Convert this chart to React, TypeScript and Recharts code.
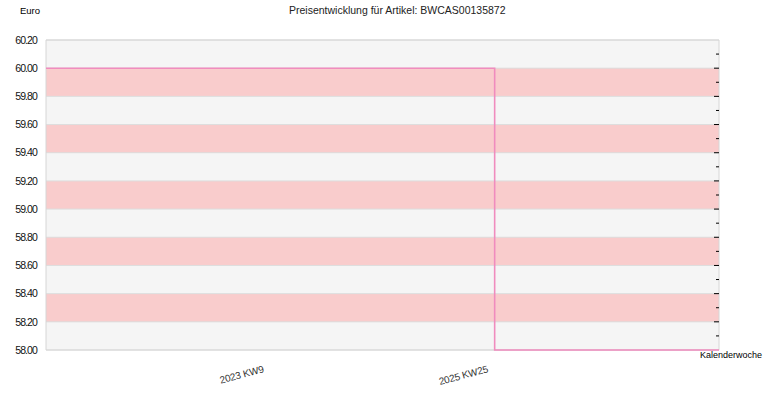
import { LineChart, Line, XAxis, YAxis, CartesianGrid, ReferenceArea } from "recharts";

const weekLabels = ["", "2023 KW9", "2025 KW25", ""];
const prices = [60.0, 60.0, 58.0, 58.0];
const yTicks = [58.0, 58.2, 58.4, 58.6, 58.8, 59.0, 59.2, 59.4, 59.6, 59.8, 60.0, 60.2];
const rightMajorTicks = [58.2, 58.4, 58.6, 58.8, 59.0, 59.2, 59.4, 59.6, 59.8, 60.0];
const rightMinorTicks = [58.1, 58.3, 58.5, 58.7, 58.9, 59.1, 59.3, 59.5, 59.7, 59.9, 60.1];

const data = prices.map((price, i) => ({ idx: i, label: weekLabels[i], price }));
const rightTicks = [...rightMajorTicks, ...rightMinorTicks].sort((a, b) => a - b);

const font = "'Liberation Sans', Arial, sans-serif";

const XTick = (props: any) => {
    const { x, y, payload } = props;
    return (
        <text
            x={x - 6}
            y={y + 14}
            textAnchor="end"
            fontSize={10}
            letterSpacing={-0.2}
            fontFamily={font}
            fill="#333"
            transform={`rotate(-15, ${x - 6}, ${y + 14})`}
        >
            {weekLabels[payload.value]}
        </text>
    );
};

// kleine Striche innen an der rechten Achse
const RightTick = (props: any) => {
    const { x, y, payload } = props;
    const major = rightMajorTicks.some((t) => Math.abs(t - payload.value) < 1e-6);
    return <line x1={x - (major ? 5 : 3)} x2={x} y1={y} y2={y} stroke="#000" strokeWidth={1} />;
};

export default function App() {
    return (
        <div style={{ position: "absolute", left: 0, top: 0, width: 770, height: 400, background: "#fff", fontFamily: font }}>
            <div style={{ position: "absolute", left: 289, top: 4, fontSize: 10.5, color: "#222", whiteSpace: "nowrap" }}>
                Preisentwicklung für Artikel: BWCAS00135872
            </div>
            <div style={{ position: "absolute", left: 20, top: 5, fontSize: 9.5, color: "#000" }}>Euro</div>
            <div style={{ position: "absolute", left: 700, top: 350, fontSize: 9, color: "#000" }}>Kalenderwoche</div>

            <LineChart width={770} height={400} data={data} margin={{ top: 40, right: 0, bottom: 0, left: 0 }}>
                <CartesianGrid
                    yAxisId="left"
                    vertical={false}
                    stroke="#dddddd"
                    horizontalFill={["#f5f5f5", "#f9cccc"]}
                    fillOpacity={1}
                />
                <XAxis
                    dataKey="idx"
                    type="number"
                    domain={[0, 3]}
                    ticks={[1, 2]}
                    axisLine={false}
                    tickLine={false}
                    height={50}
                    tick={<XTick />}
                    interval={0}
                />
                <YAxis
                    yAxisId="left"
                    type="number"
                    domain={[58, 60.2]}
                    ticks={yTicks}
                    width={46}
                    axisLine={false}
                    tickLine={false}
                    tickMargin={3}
                    tickFormatter={(v: number) => v.toFixed(2)}
                    tick={{ fontSize: 10.5, fill: "#111", fontFamily: font, letterSpacing: -0.9 }}
                    interval={0}
                />
                <YAxis
                    yAxisId="right"
                    orientation="right"
                    type="number"
                    domain={[58, 60.2]}
                    ticks={rightTicks}
                    width={51}
                    axisLine={false}
                    tickLine={false}
                    tickSize={0}
                    tickMargin={0}
                    tick={<RightTick />}
                    interval={0}
                />
                <ReferenceArea
                    yAxisId="left"
                    x1={0}
                    x2={3}
                    y1={58}
                    y2={60.2}
                    fill="none"
                    fillOpacity={0}
                    stroke="#d6d6d6"
                    strokeWidth={1}
                    ifOverflow="visible"
                />
                <Line
                    yAxisId="right"
                    dataKey="price"
                    stroke="none"
                    dot={false}
                    activeDot={false}
                    legendType="none"
                    isAnimationActive={false}
                />
                <Line
                    yAxisId="left"
                    type="stepAfter"
                    dataKey="price"
                    stroke="#f08cbe"
                    strokeWidth={1.6}
                    dot={false}
                    isAnimationActive={false}
                />
            </LineChart>
        </div>
    );
}
